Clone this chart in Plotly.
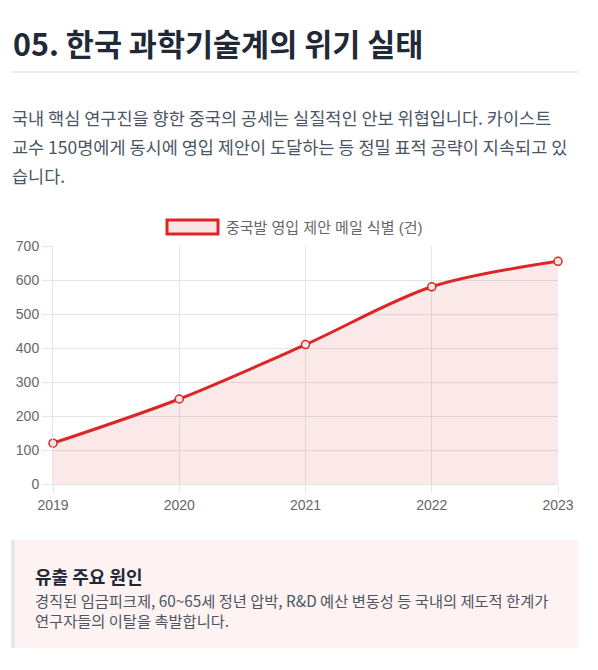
import plotly.graph_objects as go

years = [2019, 2020, 2021, 2022, 2023]
offers = [120, 250, 410, 580, 655]
y_ticks = [0, 100, 200, 300, 400, 500, 600, 700]
series_name = "중국발 영입 제안 메일 식별 (건)"
title_text = "05. 한국 과학기술계의 위기 실태"
para_lines = [
    "국내 핵심 연구진을 향한 중국의 공세는 실질적인 안보 위협입니다. 카이스트",
    "교수 150명에게 동시에 영입 제안이 도달하는 등 정밀 표적 공략이 지속되고 있",
    "습니다.",
]
box_title = "유출 주요 원인"
box_lines = [
    "경직된 임금피크제, 60~65세 정년 압박, R&D 예산 변동성 등 국내의 제도적 한계가",
    "연구자들의 이탈을 촉발합니다.",
]

OFF = 8  # page body margin
W, H = 598 - OFF, 670 - OFF
L, R, T, B = 53, 558, 246, 484  # target plot area in window pixels


def px(x):
    return (x - L) / (R - L)


def py(y):
    return (B - y) / (B - T)


KR = "Noto Sans CJK KR"
SANS = "Liberation Sans, Noto Sans CJK KR"
RED = "#dc2626"
PINK = "rgba(220,38,38,0.10)"
GRID = "#e5e5e5"

fig = go.Figure()
fig.add_trace(go.Scatter(
    x=years, y=offers, mode="lines+markers", name=series_name,
    line=dict(color=RED, width=3, shape="spline", smoothing=0.9),
    fill="tozeroy", fillcolor=PINK,
    marker=dict(size=8, color="rgba(252,228,228,1)", line=dict(color=RED, width=1.5)),
    cliponaxis=False, showlegend=False,
))

shapes = []
annotations = []

# title + rule
annotations.append(dict(x=px(11), y=py(43), xref="paper", yref="paper", text=f"<b>{title_text}</b>",
                        showarrow=False, xanchor="left", yanchor="middle",
                        font=dict(family=KR, size=30.5, color="#1f2937")))
shapes.append(dict(type="line", xref="paper", yref="paper", x0=px(11), x1=px(578), y0=py(72), y1=py(72),
                   line=dict(color="#e5e7eb", width=1.5)))

for i, ln in enumerate(para_lines):
    annotations.append(dict(x=px(10), y=py(118 + 28.5 * i), xref="paper", yref="paper", text=ln,
                            showarrow=False, xanchor="left", yanchor="middle",
                            font=dict(family=KR, size=17.5, color="#4b5563")))

# legend
shapes.append(dict(type="rect", xref="paper", yref="paper", x0=px(167), x1=px(218), y0=py(234), y1=py(220),
                   line=dict(color=RED, width=3), fillcolor="rgba(252,228,228,1)"))
annotations.append(dict(x=px(224), y=py(227), xref="paper", yref="paper", text=series_name,
                        showarrow=False, xanchor="left", yanchor="middle",
                        font=dict(family=SANS, size=15, color="#666666")))

# bottom box
shapes.append(dict(type="rect", xref="paper", yref="paper", x0=px(11), x1=px(578), y0=py(648), y1=py(540),
                   line=dict(width=0), fillcolor="#fef2f2", layer="below"))
shapes.append(dict(type="rect", xref="paper", yref="paper", x0=px(11), x1=px(15), y0=py(648), y1=py(540),
                   line=dict(width=0), fillcolor="#e5e7eb"))
annotations.append(dict(x=px(33), y=py(576), xref="paper", yref="paper", text=f"<b>{box_title}</b>",
                        showarrow=False, xanchor="left", yanchor="middle",
                        font=dict(family=KR, size=18, color="#1f2937")))
annotations.append(dict(x=px(33), y=py(610), xref="paper", yref="paper", text="<br>".join(box_lines),
                        showarrow=False, xanchor="left", yanchor="middle", align="left",
                        font=dict(family=KR, size=15.3, color="#4b5563")))

fig.update_layout(
    width=W, height=H,
    margin=dict(l=L - OFF, r=W - (R - OFF), t=T - OFF, b=H - (B - OFF), pad=0, autoexpand=False),
    paper_bgcolor="white", plot_bgcolor="white",
    shapes=shapes, annotations=annotations,
    xaxis=dict(range=[years[0], years[-1]], tickvals=years, ticktext=[str(y) for y in years],
               showgrid=True, gridcolor=GRID, gridwidth=1, zeroline=False, automargin=False,
               showline=True, linecolor=GRID, ticks="outside", ticklen=8, tickcolor=GRID,
               tickfont=dict(family=SANS, size=14, color="#666666"), fixedrange=True),
    yaxis=dict(range=[0, 700], tickvals=y_ticks, showgrid=True, gridcolor=GRID, gridwidth=1,
               zeroline=False, showline=True, linecolor=GRID, ticks="outside", ticklen=10,
               tickcolor=GRID, ticklabelstandoff=0, automargin=False,
               tickfont=dict(family=SANS, size=14, color="#666666"), fixedrange=True),
)

fig.write_html("out.html", config={"displayModeBar": False})
